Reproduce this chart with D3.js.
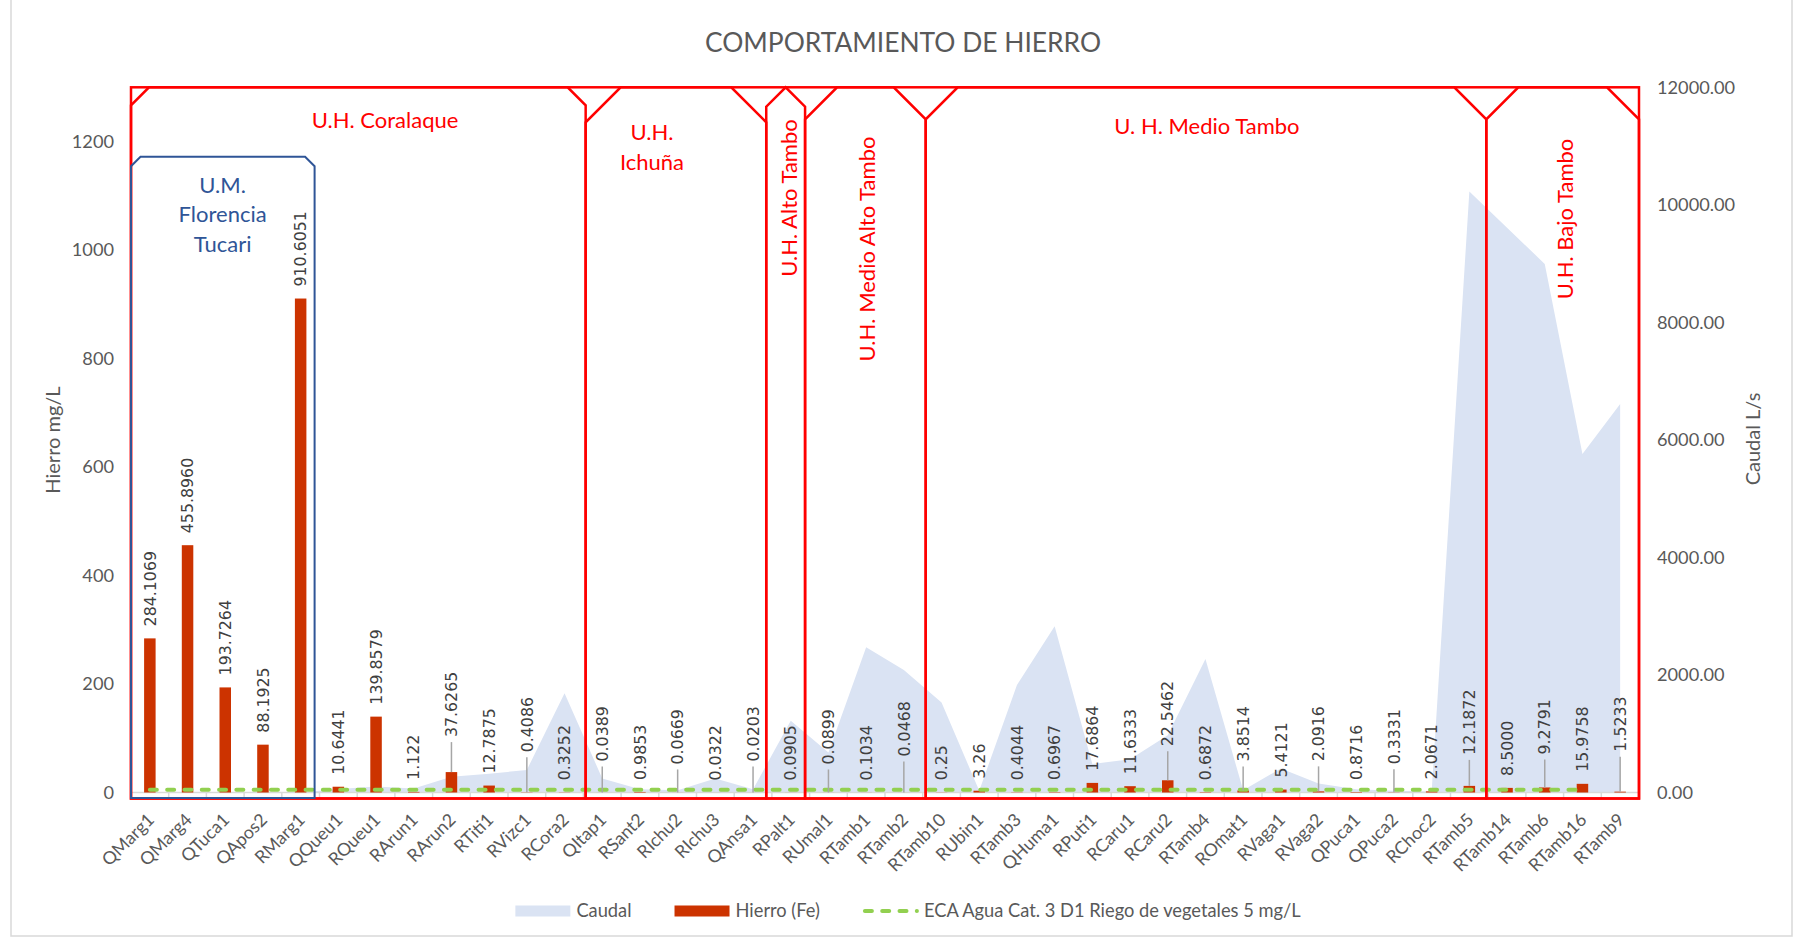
<!DOCTYPE html>
<html lang="es">
<head>
<meta charset="utf-8">
<title>Comportamiento de hierro</title>
<script src="https://cdn.jsdelivr.net/npm/d3@7"></script>
<style>
    body { margin: 0; background: #fff; }
    svg text { font-family: Lato, "Open Sans", sans-serif; }
</style>
</head>
<body>
<div id="chart"></div>
<script>
    // estaciones de monitoreo (eje x)
    var categories = ["QMarg1", "QMarg4", "QTuca1", "QApos2", "RMarg1", "QQueu1", "RQueu1", "RArun1", "RArun2", "RTiti1",
        "RVizc1", "RCora2", "QItap1", "RSant2", "RIchu2", "RIchu3", "QAnsa1", "RPalt1", "RUmal1", "RTamb1",
        "RTamb2", "RTamb10", "RUbin1", "RTamb3", "QHuma1", "RPuti1", "RCaru1", "RCaru2", "RTamb4", "ROmat1",
        "RVaga1", "RVaga2", "QPuca1", "QPuca2", "RChoc2", "RTamb5", "RTamb14", "RTamb6", "RTamb16", "RTamb9"];
    // Hierro (Fe) mg/L, tal como aparece en las etiquetas
    var hierroLabels = ["284.1069", "455.8960", "193.7264", "88.1925", "910.6051", "10.6441", "139.8579", "1.122", "37.6265", "12.7875",
        "0.4086", "0.3252", "0.0389", "0.9853", "0.0669", "0.0322", "0.0203", "0.0905", "0.0899", "0.1034",
        "0.0468", "0.25", "3.26", "0.4044", "0.6967", "17.6864", "11.6333", "22.5462", "0.6872", "3.8514",
        "5.4121", "2.0916", "0.8716", "0.3331", "2.0671", "12.1872", "8.5000", "9.2791", "15.9758", "1.5233"];
    var hierro = hierroLabels.map(Number);
    // Caudal L/s (eje derecho)
    var caudal = [0, 0, 0, 0, 0, 60, 100, 70, 270, 320,
        383, 1690, 240, 55, 40, 240, 55, 1220, 680, 2470,
        2085, 1530, 30, 1830, 2830, 485, 565, 975, 2270, 40,
        410, 155, 55, 30, 15, 10225, 9610, 8995, 5760, 6610];
    // ECA Agua Cat. 3 D1 riego de vegetales
    var eca = [5, 5, 5, 5, 5, 5, 5, 5, 5, 5,
        5, 5, 5, 5, 5, 5, 5, 5, 5, 5,
        5, 5, 5, 5, 5, 5, 5, 5, 5, 5,
        5, 5, 5, 5, 5, 5, 5, 5, 5, null];
    var leftTicks = [0, 200, 400, 600, 800, 1000, 1200];
    var rightTicks = [0, 2000, 4000, 6000, 8000, 10000, 12000];
    var legendNames = ["Caudal", "Hierro (Fe)", "ECA Agua Cat. 3 D1 Riego de vegetales 5 mg/L"];

    // etiquetas que Excel subio con linea guia (px extra)
    var leaderLift = {RArun2: 23, RVizc1: 28, QItap1: 19, RIchu2: 16, QAnsa1: 19, RUmal1: 16, RTamb2: 24,
        RCaru2: 22, ROmat1: 17, RVaga2: 18, QPuca2: 16, RTamb5: 19, RTamb6: 21, RTamb9: 28};

    // recuadros de unidades hidrograficas (en unidades de categoria)
    var regions = [
        {lines: ["U.H. Coralaque"], from: 0, to: 12.06, cut: 18, tx: 6.74, ty: 128},
        {lines: ["U.H.", "Ichuña"], from: 12.06, to: 16.85, cut: 35, tx: 13.82, ty: 140},
        {lines: ["U.H. Alto Tambo"], from: 16.85, to: 17.88, cut: 20, tx: 17.45, ty: 198, vertical: true},
        {lines: ["U.H. Medio Alto Tambo"], from: 17.88, to: 21.08, cut: 32, tx: 19.52, ty: 249, vertical: true},
        {lines: ["U. H. Medio Tambo"], from: 21.08, to: 35.95, cut: 32, tx: 28.54, ty: 134},
        {lines: ["U.H. Bajo Tambo"], from: 35.95, to: 40, cut: 32, tx: 38.04, ty: 219, vertical: true}
    ];
    var unidad = {lines: ["U.M.", "Florencia", "Tucari"], from: 0, to: 4.87, top: 156.7, cut: 9.5, tx: 2.43, ty: 192.7};

    var W = 1798, H = 939;
    var plot = {left: 131, right: 1639, top: 87.3, bottom: 792.5};
    var boxBottom = plot.bottom + 6;
    var grey = "#595959";

    var svg = d3.select("#chart").append("svg").attr("width", W).attr("height", H);
    svg.append("rect").attr("width", W).attr("height", H).attr("fill", "#fff");
    svg.append("rect").attr("x", 11).attr("y", -1).attr("width", 1781).attr("height", 937)
        .attr("fill", "none").attr("stroke", "#d9d9d9").attr("stroke-width", 1.5);

    var x = d3.scaleBand().domain(categories).range([plot.left, plot.right]);
    var step = x.step();
    var cx = function (d) { return x(d) + step / 2; };
    var u = d3.scaleLinear().domain([0, categories.length]).range([plot.left, plot.right]);
    var yL = d3.scaleLinear().domain([0, 1300]).range([plot.bottom, plot.top]);
    var yR = d3.scaleLinear().domain([0, 12000]).range([plot.bottom, plot.top]);

    // titulo
    svg.append("text").attr("x", 903).attr("y", 52).attr("text-anchor", "middle")
        .style("font-size", "26.4px").attr("fill", grey).text("COMPORTAMIENTO DE HIERRO");

    // area de caudal
    var area = d3.area().x(function (d, i) { return cx(categories[i]); })
        .y0(yR(0)).y1(function (d) { return yR(d); });
    svg.append("path").datum(caudal).attr("d", area).attr("fill", "#dae3f3");

    // eje x
    svg.append("line").attr("x1", plot.left).attr("x2", plot.right).attr("y1", plot.bottom).attr("y2", plot.bottom)
        .attr("stroke", "#d9d9d9").attr("stroke-width", 1.5);
    svg.selectAll(".xtick").data(d3.range(categories.length + 1)).enter().append("line")
        .attr("x1", function (d) { return u(d); }).attr("x2", function (d) { return u(d); })
        .attr("y1", plot.bottom).attr("y2", plot.bottom + 5)
        .attr("stroke", "#d9d9d9").attr("stroke-width", 1.5);
    svg.selectAll(".xlabel").data(categories).enter().append("text")
        .attr("transform", function (d) { return "translate(" + (cx(d) + 1) + "," + (plot.bottom + 24) + ") rotate(-45)"; })
        .attr("text-anchor", "end").attr("dy", "0.35em").style("font-size", "17.8px").attr("fill", grey)
        .text(function (d) { return d; });

    // ejes y
    var axL = svg.append("g").attr("transform", "translate(" + plot.left + ",0)")
        .call(d3.axisLeft(yL).tickValues(leftTicks).tickFormat(d3.format("d")).tickSize(0).tickPadding(17));
    var axR = svg.append("g").attr("transform", "translate(" + plot.right + ",0)")
        .call(d3.axisRight(yR).tickValues(rightTicks).tickFormat(d3.format(".2f")).tickSize(0).tickPadding(18));
    [axL, axR].forEach(function (g) {
        g.select(".domain").remove();
        g.selectAll("text").style("font-size", "18.2px").style("font-family", "Lato, sans-serif").attr("fill", grey);
    });
    svg.append("text").attr("transform", "translate(60,440) rotate(-90)").attr("text-anchor", "middle")
        .style("font-size", "20px").attr("fill", grey).text("Hierro mg/L");
    svg.append("text").attr("transform", "translate(1760,439) rotate(-90)").attr("text-anchor", "middle")
        .style("font-size", "20px").attr("fill", grey).text("Caudal L/s");

    // barras de hierro
    var barW = 11.5;
    svg.selectAll(".bar").data(hierro).enter().append("rect")
        .attr("x", function (d, i) { return cx(categories[i]) - barW / 2; })
        .attr("y", function (d) { return yL(d); })
        .attr("width", barW).attr("height", function (d) { return yL(0) - yL(d); })
        .attr("fill", "#cc3300");

    // linea ECA
    var ecaLine = d3.line().defined(function (d) { return d != null; })
        .x(function (d, i) { return cx(categories[i]); }).y(function (d) { return yL(d); });
    svg.append("path").datum(eca).attr("d", ecaLine).attr("fill", "none").attr("stroke", "#92d050")
        .attr("stroke-width", 4).attr("stroke-linecap", "round").attr("stroke-dasharray", "7,10.3");

    // etiquetas de datos
    hierro.forEach(function (v, i) {
        var c = categories[i], top = yL(v), lift = leaderLift[c] || 0;
        var base = top - 12 - lift;
        if (lift) {
            svg.append("line").attr("x1", cx(c)).attr("x2", cx(c)).attr("y1", base + 5).attr("y2", top)
                .attr("stroke", "#a6a6a6").attr("stroke-width", 1.5);
        }
        svg.append("text").attr("transform", "translate(" + cx(c) + "," + base + ") rotate(-90)")
            .attr("dy", "0.36em").style("font-family", "'DejaVu Sans', sans-serif").style("font-size", "15.8px")
            .attr("fill", "#404040").text(hierroLabels[i]);
    });

    // recuadros
    function snipPath(x0, x1, y0, y1, cut) {
        cut = Math.min(cut, (x1 - x0) / 2);
        return "M" + x0 + "," + y1 + "L" + x0 + "," + (y0 + cut) + "L" + (x0 + cut) + "," + y0 +
            "L" + (x1 - cut) + "," + y0 + "L" + x1 + "," + (y0 + cut) + "L" + x1 + "," + y1 + "Z";
    }
    svg.append("rect").attr("x", plot.left).attr("y", plot.top).attr("width", plot.right - plot.left)
        .attr("height", boxBottom - plot.top).attr("fill", "none").attr("stroke", "#ff0000").attr("stroke-width", 2.5);
    regions.forEach(function (r) {
        svg.append("path").attr("d", snipPath(u(r.from), u(r.to), plot.top, boxBottom, r.cut))
            .attr("fill", "none").attr("stroke", "#ff0000").attr("stroke-width", 2.5);
        var t = svg.append("text").attr("fill", "#ff0000").style("font-size", "22px").attr("text-anchor", "middle");
        if (r.vertical) {
            t.attr("transform", "translate(" + u(r.tx) + "," + r.ty + ") rotate(-90)").attr("dy", "0.36em").text(r.lines[0]);
        } else {
            r.lines.forEach(function (l, k) {
                t.append("tspan").attr("x", u(r.tx)).attr("y", r.ty + k * 30).text(l);
            });
        }
    });
    svg.append("path").attr("d", snipPath(u(unidad.from), u(unidad.to), unidad.top, boxBottom - 0.6, unidad.cut))
        .attr("fill", "none").attr("stroke", "#2f5597").attr("stroke-width", 2);
    var tu = svg.append("text").attr("fill", "#2f5597").style("font-size", "22px").attr("text-anchor", "middle");
    unidad.lines.forEach(function (l, k) {
        tu.append("tspan").attr("x", u(unidad.tx)).attr("y", unidad.ty + k * 29.5).text(l);
    });

    // leyenda
    var lg = svg.append("g"), lx = 0, ly = 911;
    legendNames.forEach(function (name, i) {
        var g = lg.append("g").attr("transform", "translate(" + lx + ",0)");
        if (i === 0) g.append("rect").attr("y", ly - 5.5).attr("width", 55).attr("height", 11).attr("fill", "#dae3f3");
        if (i === 1) g.append("rect").attr("y", ly - 5.5).attr("width", 55).attr("height", 11).attr("fill", "#cc3300");
        if (i === 2) g.append("line").attr("x1", 2).attr("x2", 54).attr("y1", ly).attr("y2", ly).attr("stroke", "#92d050")
            .attr("stroke-width", 4).attr("stroke-linecap", "round").attr("stroke-dasharray", "7,10.3");
        var t = g.append("text").attr("x", 61).attr("y", ly).attr("dy", "0.35em").style("font-size", "18.3px")
            .attr("fill", grey).text(name);
        lx += 61 + t.node().getComputedTextLength() + 43;
    });
    lx -= 43;
    lg.attr("transform", "translate(" + (908 - lx / 2) + ",0)");
</script>
</body>
</html>
